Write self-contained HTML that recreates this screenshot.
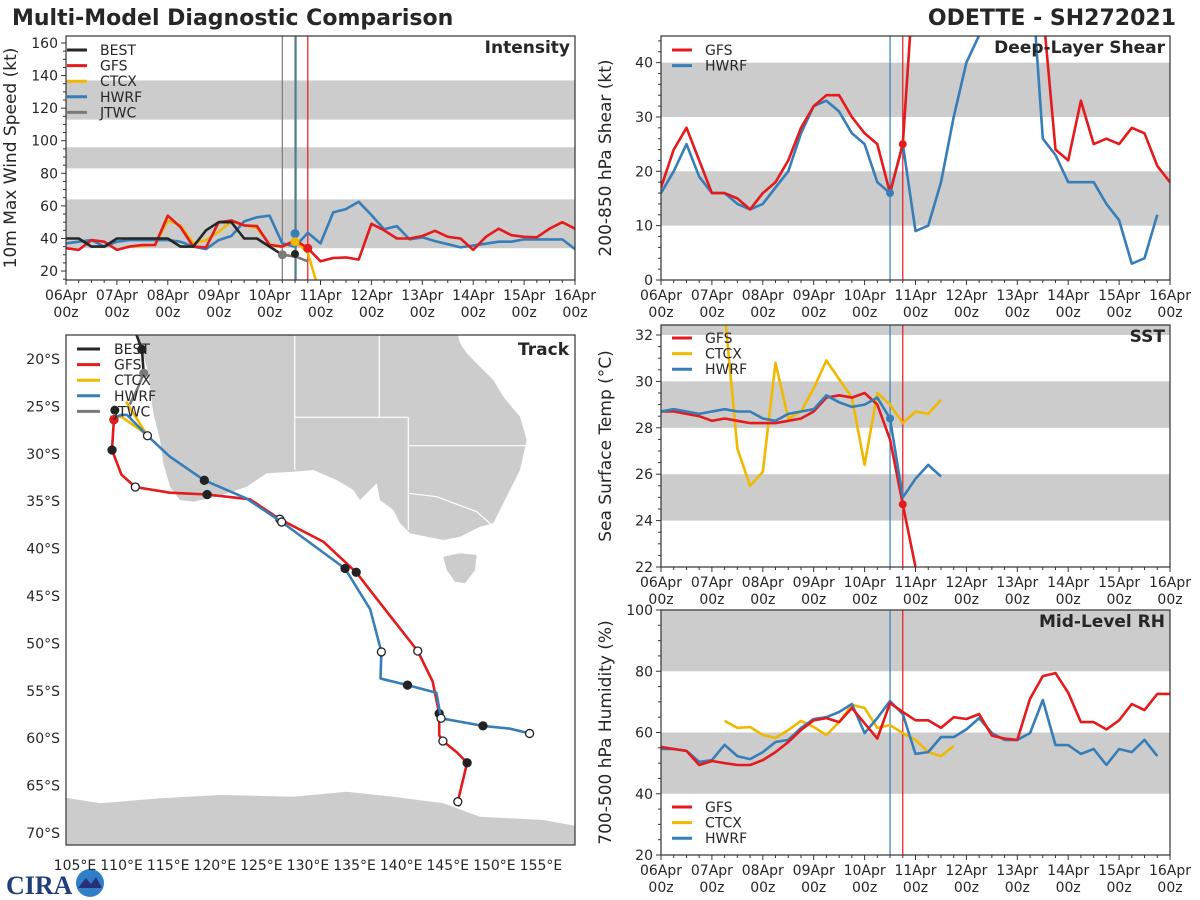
<!DOCTYPE html>
<html><head><meta charset="utf-8"><style>
body{margin:0;background:#fff;}
svg{display:block;font-family:"DejaVu Sans","Liberation Sans",sans-serif;}
</style></head><body>
<svg id="chart" width="1200" height="900" viewBox="0 0 1200 900" xmlns="http://www.w3.org/2000/svg">
<rect width="1200" height="900" fill="#fff"/>
<text x="12" y="25" font-size="22" font-weight="bold" fill="#262626">Multi-Model Diagnostic Comparison</text>
<text x="1176" y="25" font-size="22" font-weight="bold" fill="#262626" text-anchor="end">ODETTE - SH272021</text>
<g>
<text x="6" y="894" font-size="26" font-weight="bold" fill="#1d3f7a" font-family="Liberation Serif, serif">CIRA</text>
<circle cx="90" cy="883" r="14" fill="#2f7fc8"/>
<path d="M78 888 L86 878 L91 884 L96 877 L102 888 Z" fill="#2a2f7a"/>
</g>
</svg>
<script>
// ---------------- data ----------------
const days = ["06Apr","07Apr","08Apr","09Apr","10Apr","11Apr","12Apr","13Apr","14Apr","15Apr","16Apr"];
const intBest = [40,40,35,35,40,40,40,40,40,35,35,45,50,50,40,40,35,30];
const intJtwc = [null,null,null,null,null,null,null,null,null,null,null,null,null,null,null,null,null,30,29,26];
const intGfs = [34,33,39,38,33,35,36,36,54,47,35,34.5,50,51,48,47.6,36,35,39,34,26,28,28.4,27,49,45,40,40,41.5,44.7,41,40,33,41,46,42,41,40.7,46,50,46];
const intHwrf = [37,38,39,35,38,39,39,39,39,38,35,33.5,39,41.5,50.5,53,54,37,35,43.5,37,56,58,62.5,54.4,45.6,47.6,39.4,40.7,38.4,36.5,34.5,35.7,36.8,38,38,39.4,39.4,39.4,39.4,33.5];
const intCtcx = [null,null,null,null,null,35,35.5,36,51,48,37,39,44,50.6,48,46.5,36.4,35,38.4,31,5];
const shrGfs = [17,24,28,22,16,16,15,13,16,18,22,28,32,34,34,30,27,25,16,25,60,60,60,60,60,60,60,60,60,60,50,24,22,33,25,26,25,28,27,21,18];
const shrHwrf = [16,20,25,19,16,16,14,13,14,17,20,27,32,33,31,27,25,18,16,25,9,10,18,30,40,45,60,60,60,60,26,23,18,18,18,14,11,3,4,12];
const sstGfs = [28.7,28.7,28.6,28.5,28.3,28.4,28.3,28.2,28.2,28.2,28.3,28.4,28.7,29.3,29.4,29.3,29.5,29.0,27.5,24.7,22];
const sstHwrf = [28.7,28.8,28.7,28.6,28.7,28.8,28.7,28.7,28.4,28.3,28.6,28.7,28.8,29.4,29.1,28.9,29.0,29.3,28.4,25.0,25.8,26.4,25.9];
const sstCtcx = [null,null,null,null,null,33,27.1,25.5,26.1,30.8,28.4,28.7,29.7,30.9,30.1,29.3,26.4,29.5,29.0,28.2,28.7,28.6,29.2];
const rhGfs = [55.3,54.6,54,49.4,50.7,50,49.4,49.4,51,53.6,56.9,60.8,64,64.7,63.4,68,63,58,69.6,66.7,64,64,61.5,65,64.4,66,59,58,57.6,71,78.4,79.4,73,63.4,63.4,61,64,69.3,67.3,72.6,72.6];
const rhHwrf = [54.6,54.6,54,50.4,51,56,52.3,51.3,53.6,56.9,57.6,61.5,64.4,65,66.7,69.3,59.8,64.7,70.3,66,53,53.6,58.5,58.5,61,64.7,59.8,57.6,57.6,59.8,70.6,55.9,55.9,53,54.6,49.4,54.6,53.6,57.6,52.3];
const rhCtcx = [null,null,null,null,null,63.8,61.5,61.8,59.2,58.2,60.8,63.8,61.8,59.2,63.4,69,68,61.5,62.4,59.8,57.6,53.6,52.3,55.6];
const trkGfsLon = [109.5,109.3,110.3,111.8,115.5,119.5,124.1,127.3,132.0,135.5,138.1,142.1,143.7,144.4,144.4,144.8,146.3,147.4,146.4,146.6];
const trkGfsLat = [26.4,29.6,32.2,33.5,34.1,34.3,34.8,36.9,39.3,42.5,45.8,50.8,54.0,57.4,59.7,60.3,61.5,62.6,66.7,67.2];
const trkGfsMark = [2,1,0,2,0,1,0,2,0,1,0,2,0,1,0,2,0,1,2,0];
const trkHwrfLon = [109.4,110.3,110.9,113.1,115.5,119.2,123.7,127.5,134.3,137.0,138.2,138.1,141.0,144.1,144.6,149.1,152.0,154.1];
const trkHwrfLat = [26.2,25.9,25.9,28.1,30.3,32.8,34.7,37.2,42.1,46.4,50.9,53.7,54.4,55.2,57.9,58.7,59.0,59.5];
const trkHwrfMark = [0,0,0,2,0,1,0,2,1,0,2,0,1,0,2,1,0,2];
const trkCtcxLon = [109.1,110.3,112.5,113.1,110.8];
const trkCtcxLat = [26.1,26.1,27.6,28.1,24.5];
const trkBestLon = [111.9,112.5,112.7];
const trkBestLat = [17.4,19.0,21.5];
const trkJtwcLon = [112.7,112.0,111.2];
const trkJtwcLat = [21.5,23.2,24.8];
const latTicks = [20,25,30,35,40,45,50,55,60,65,70];
const lonTicks = [105,110,115,120,125,130,135,140,145,150,155];

// ---------------- helpers ----------------
const NS="http://www.w3.org/2000/svg";
const svg=document.getElementById('chart');
function mk(tag,attrs,parent){const e=document.createElementNS(NS,tag);for(const k in attrs)e.setAttribute(k,attrs[k]);(parent||svg).appendChild(e);return e;}
const C={red:"#e41a1c",blue:"#377eb8",yel:"#f0b800",blk:"#262626",gry:"#7a7a7a",band:"#cccccc"};

function panel(name,x0,y0,x1,y1,ymin,ymax,major,minor,bands,ytitle,ptitle){
  const g=mk('g',{});
  
  
  const cid='clip-'+name;
  const cp=mk('clipPath',{id:cid},g);mk('rect',{x:x0,y:y0,width:x1-x0,height:y1-y0},cp);
  const xs=d=>x0+(x1-x0)*d/10;
  const ys=v=>y1-(y1-y0)*(v-ymin)/(ymax-ymin);
  const plot=mk('g',{'clip-path':'url(#'+cid+')'},g);
  bands.forEach(b=>{const r=mk('rect',{x:x0,y:ys(b[1]),width:x1-x0,height:ys(b[0])-ys(b[1]),fill:C.band},plot);
    
    });
  for(let v=Math.ceil(ymin/minor)*minor;v<=ymax+1e-9;v+=minor){
    const isM=Math.abs(v/major-Math.round(v/major))<1e-6;
    mk('line',{x1:x0,x2:x0-(isM?5:3),y1:ys(v),y2:ys(v),stroke:'#333','stroke-width':1},g);
    if(isM){const t=mk('text',{x:x0-8,y:ys(v)+5,'font-size':14,'text-anchor':'end',fill:'#262626'},g);t.textContent=String(v);
      
      }
  }
  for(let i=0;i<=40;i++){const d=i/4;const isM=i%4==0;
    mk('line',{x1:xs(d),x2:xs(d),y1:y1,y2:y1+(isM?5:3),stroke:'#333','stroke-width':1},g);
    if(isM){const t=mk('text',{x:xs(d),y:y1+20,'font-size':14,'text-anchor':'middle',fill:'#262626'},g);t.textContent=days[i/4];
      
      
      const t2=mk('text',{x:xs(d),y:y1+37,'font-size':14,'text-anchor':'middle',fill:'#262626'},g);t2.textContent='00z';
      
      }
  }
  const yt=mk('text',{x:0,y:0,'font-size':17,'text-anchor':'middle',fill:'#262626',transform:`translate(${x0-50},${(y0+y1)/2}) rotate(-90)`},g);
  yt.textContent=ytitle;
  
  
  const pt=mk('text',{x:x1-5,y:y0+17,'font-size':17,'font-weight':'bold','text-anchor':'end',fill:'#262626'},g);
  pt.textContent=ptitle;
  
  
  return {g,plot,xs,ys,frame:()=>mk('rect',{x:x0,y:y0,width:x1-x0,height:y1-y0,fill:'none',stroke:'#333','stroke-width':1.2},g)};
}
function series(P,vals,color,name,w){
  let d='',pen=false;
  vals.forEach((v,i)=>{if(v==null){pen=false;return;}d+=(pen?'L':'M')+P.xs(i/4).toFixed(1)+' '+P.ys(v).toFixed(1)+' ';pen=true;});
  const p=mk('path',{d:d,fill:'none',stroke:color,'stroke-width':w||2.6,'stroke-linejoin':'round'},P.plot);
  
  
  return p;
}
function vline(P,day,color,w){mk('line',{x1:P.xs(day),x2:P.xs(day),y1:0,y2:900,stroke:color,'stroke-width':w||1.2},P.plot);}
function dot(P,day,v,color,r){const c=mk('circle',{cx:P.xs(day),cy:P.ys(v),r:r||4.5,fill:color},P.plot);
  
  }
function legend(P,x,y,items,step){
  items.forEach((it,i)=>{const gy=y+i*(step||15.6);
    const l=mk('line',{x1:x,x2:x+20,y1:gy,y2:gy,stroke:it[1],'stroke-width':3},P.g);
    
    
    const t=mk('text',{x:x+33,y:gy+5,'font-size':14,fill:'#262626'},P.g);t.textContent=it[0];
    
    });
}

// ---------------- intensity ----------------
const PI=panel('intensity',66,36,575,280,14.5,164.3,20,5,[[34,64],[83,96],[113,137]],'10m Max Wind Speed (kt)','Intensity');
vline(PI,4.25,C.gry);vline(PI,4.5,'#6b7a5a');vline(PI,4.52,C.blue);vline(PI,4.75,C.red);
series(PI,intCtcx,C.yel,'ctcx-intensity-line');
series(PI,intHwrf,C.blue,'hwrf-intensity-line');
series(PI,intGfs,C.red,'gfs-intensity-line');
series(PI,intBest,C.blk,'best-intensity-line');
series(PI,intJtwc,C.gry,'jtwc-intensity-line');
dot(PI,4.25,30,C.gry);dot(PI,4.5,30.5,C.blk,4);dot(PI,4.5,43,C.blue);dot(PI,4.5,38,C.yel);dot(PI,4.75,34,C.red);
PI.frame();
legend(PI,67,50,[["BEST",C.blk],["GFS",C.red],["CTCX",C.yel],["HWRF",C.blue],["JTWC",C.gry]]);

// ---------------- shear ----------------
const PS=panel('shear',661,36,1170,280,0,44.9,10,2,[[10,20],[30,40]],'200-850 hPa Shear (kt)','Deep-Layer Shear');
vline(PS,4.5,C.blue);vline(PS,4.75,C.red);
series(PS,shrHwrf,C.blue,'hwrf-shear-line');
series(PS,shrGfs,C.red,'gfs-shear-line');
dot(PS,4.5,16,C.blue,4);dot(PS,4.75,25,C.red,4);
PS.frame();
legend(PS,672,50,[["GFS",C.red],["HWRF",C.blue]]);

// ---------------- SST ----------------
const PT=panel('sst',661,325,1170,567,22,32.43,2,0.5,[[24,26],[28,30],[32,34]],'Sea Surface Temp (°C)','SST');
vline(PT,4.5,C.blue);vline(PT,4.75,C.red);
series(PT,sstCtcx,C.yel,'ctcx-sst-line');
series(PT,sstGfs,C.red,'gfs-sst-line');
series(PT,sstHwrf,C.blue,'hwrf-sst-line');
dot(PT,4.5,28.4,C.blue,4);dot(PT,4.75,24.7,C.red,4);
PT.frame();
legend(PT,672,338,[["GFS",C.red],["CTCX",C.yel],["HWRF",C.blue]]);

// ---------------- RH ----------------
const PR=panel('rh',661,610,1170,855,20,100,20,5,[[40,60],[80,100]],'700-500 hPa Humidity (%)','Mid-Level RH');
vline(PR,4.5,C.blue);vline(PR,4.75,C.red);
series(PR,rhCtcx,C.yel,'ctcx-rh-line');
series(PR,rhHwrf,C.blue,'hwrf-rh-line');
series(PR,rhGfs,C.red,'gfs-rh-line');
PR.frame();
legend(PR,672,807,[["GFS",C.red],["CTCX",C.yel],["HWRF",C.blue]]);

// ---------------- track ----------------
(function(){
  const x0=66,y0=335,x1=575,y1=845;
  const g=mk('g',{});
  
  
  const cp=mk('clipPath',{id:'clip-track'},g);mk('rect',{x:x0,y:y0,width:x1-x0,height:y1-y0},cp);
  const plot=mk('g',{'clip-path':'url(#clip-track)'},g);
  const zp=s=>s.trim().split(/\s+/).map(p=>{const [a,b]=p.split(',').map(Number);return (60+a/3).toFixed(1)+','+(330+b/3).toFixed(1);}).join(' ');
  const aus=mk('polygon',{points:zp("0,0 230,0 245,60 260,110 270,170 280,250 300,330 310,400 330,470 360,510 400,515 470,500 560,470 620,430 700,425 760,420 830,450 880,480 900,510 930,480 950,460 960,510 1000,540 1020,580 1050,610 1100,620 1150,630 1200,620 1260,590 1300,580 1330,520 1380,420 1400,330 1380,260 1330,200 1300,150 1260,110 1220,70 1200,40 1190,0 230,0"),fill:C.band},plot);
  
  
  mk('polygon',{points:zp("0,0 230,0 225,15 0,15"),fill:'#fff'},plot);
  const tas=mk('polygon',{points:zp("1150,680 1200,670 1250,675 1245,720 1215,760 1185,755 1160,720"),fill:C.band},plot);
  
  
  const ant=mk('polygon',{points:zp("0,1400 120,1420 300,1405 480,1395 700,1400 860,1385 1000,1400 1150,1420 1260,1460 1450,1470 1560,1490 1560,1560 0,1560"),fill:C.band},plot);
  
  
  [["704,15 704,420"],["958,15 958,262"],["704,262 1045,262"],["1045,262 1045,600"],["1045,347 1400,347"],["1045,490 1130,500 1250,545 1295,585"]].forEach(s=>{
    mk('polyline',{points:zp(s[0]),fill:'none',stroke:'#fff','stroke-width':1.2},plot);});
  const lx=lon=>x0+(lon-104.36)*9.32;
  const ly=lat=>y0+(lat-17.47)*9.48;
  function trk(lons,lats,color,name,marks){
    const pts=lons.map((v,i)=>lx(v).toFixed(1)+','+ly(lats[i]).toFixed(1)).join(' ');
    const p=mk('polyline',{points:pts,fill:'none',stroke:color,'stroke-width':2.6,'stroke-linejoin':'round'},plot);
    
    
    if(marks)marks.forEach((m,i)=>{if(!m)return;
      const c=mk('circle',{cx:lx(lons[i]),cy:ly(lats[i]),r:4,fill:m==1?'#222':'#fff',stroke:'#222','stroke-width':1.3},plot);
      
      });
  }
  trk(trkCtcxLon,trkCtcxLat,C.yel,'ctcx-track');
  trk(trkGfsLon,trkGfsLat,C.red,'gfs-track',trkGfsMark);
  trk(trkHwrfLon,trkHwrfLat,C.blue,'hwrf-track',trkHwrfMark);
  trk(trkBestLon,trkBestLat,C.blk,'best-track',[0,1,0]);
  trk(trkJtwcLon,trkJtwcLat,C.gry,'jtwc-track');
  mk('circle',{cx:lx(112.7),cy:ly(21.5),r:4.5,fill:C.gry},plot);
  mk('circle',{cx:lx(109.5),cy:ly(26.4),r:4.5,fill:C.red},plot);
  mk('circle',{cx:lx(109.6),cy:ly(25.4),r:4.5,fill:'#222'},plot);
  mk('rect',{x:x0,y:y0,width:x1-x0,height:y1-y0,fill:'none',stroke:'#333','stroke-width':1.2},g);
  const pt=mk('text',{x:x1-6,y:y0+20,'font-size':17,'font-weight':'bold','text-anchor':'end',fill:'#262626'},g);pt.textContent='Track';
  
  
  latTicks.forEach(v=>{const t=mk('text',{x:60,y:ly(v)+5,'font-size':14,'text-anchor':'end',fill:'#262626'},g);t.textContent=v+'°S';
    
    });
  lonTicks.forEach(v=>{const t=mk('text',{x:lx(v)+3,y:870,'font-size':14,'text-anchor':'middle',fill:'#262626'},g);t.textContent=v+'°E';
    
    });
  const L=[["BEST",C.blk],["GFS",C.red],["CTCX",C.yel],["HWRF",C.blue],["JTWC",C.gry]];
  L.forEach((it,i)=>{const gy=349+i*15.6;
    const l=mk('line',{x1:77,x2:100,y1:gy,y2:gy,stroke:it[1],'stroke-width':3},g);
    
    
    const t=mk('text',{x:114,y:gy+5,'font-size':14,fill:'#262626'},g);t.textContent=it[0];
    
    });
})();
</script>
</body></html>
